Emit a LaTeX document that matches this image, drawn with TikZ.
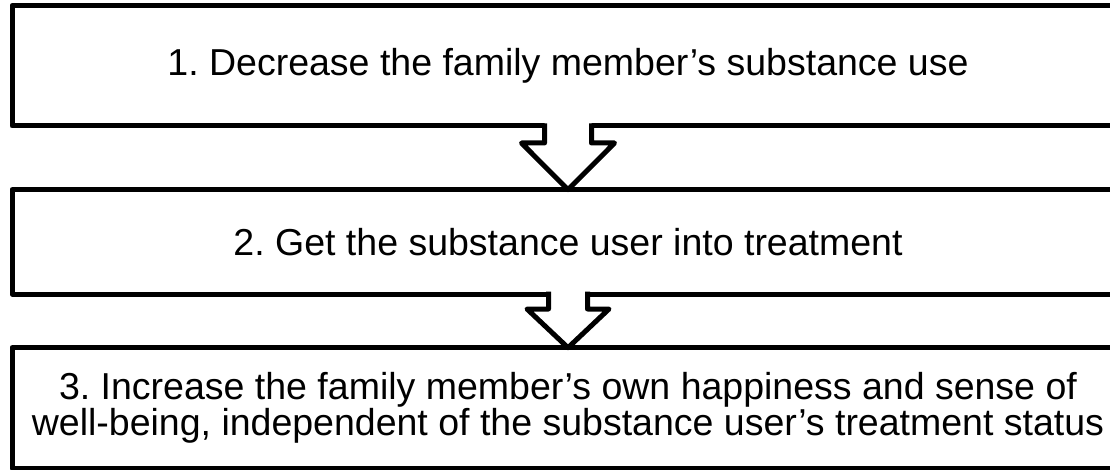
\documentclass[tikz,border=0pt]{standalone}
\usepackage{fontspec}
\setmainfont{Liberation Sans}
\usetikzlibrary{calc}
\frenchspacing
\begin{document}
\begin{tikzpicture}[x=1pt,y=-1pt,
  stagebox/.style={draw=black, line width=5pt, line join=round, outer sep=0pt, inner sep=0pt,
    minimum width=1112pt, align=center, font=\fontsize{37.5}{34.5}\selectfont},
  arrowline/.style={draw=black, line width=5pt, line join=round, line cap=butt}]
\useasboundingbox (0,0) rectangle (1110,470);
\node[stagebox, minimum height=120.7pt] (b1) at (568,65.65) {1. Decrease the family member’s substance use};
\node[stagebox, minimum height=104.3pt] (b2) at (568,241.85) {2. Get the substance user into treatment};
\node[stagebox, minimum height=120.3pt] (b3) at (568,407.85) {3. Increase the family member’s own happiness and sense of\\well-being, independent of the substance user’s treatment status};
% arrow 1
\fill[white] ($(b1.south)+(-23.5,-3.5)$) -- ($(b1.south)+(-23.5,17)$) -- ($(b1.south)+(-46.5,17)$)
  -- (b2.north) -- ($(b1.south)+(46.5,17)$) -- ($(b1.south)+(23.5,17)$) -- ($(b1.south)+(23.5,-3.5)$) -- cycle;
\draw[arrowline] ($(b1.south)+(-23.5,-2.5)$) -- ($(b1.south)+(-23.5,17)$) -- ($(b1.south)+(-46.5,17)$)
  -- (b2.north) -- ($(b1.south)+(46.5,17)$) -- ($(b1.south)+(23.5,17)$) -- ($(b1.south)+(23.5,-2.5)$);
% arrow 2
\fill[white] ($(b2.south)+(-19.5,-3.5)$) -- ($(b2.south)+(-19.5,15)$) -- ($(b2.south)+(-41,15)$)
  -- (b3.north) -- ($(b2.south)+(41,15)$) -- ($(b2.south)+(19.5,15)$) -- ($(b2.south)+(19.5,-3.5)$) -- cycle;
\draw[arrowline] ($(b2.south)+(-19.5,-2.5)$) -- ($(b2.south)+(-19.5,15)$) -- ($(b2.south)+(-41,15)$)
  -- (b3.north) -- ($(b2.south)+(41,15)$) -- ($(b2.south)+(19.5,15)$) -- ($(b2.south)+(19.5,-2.5)$);
\end{tikzpicture}
\end{document}
